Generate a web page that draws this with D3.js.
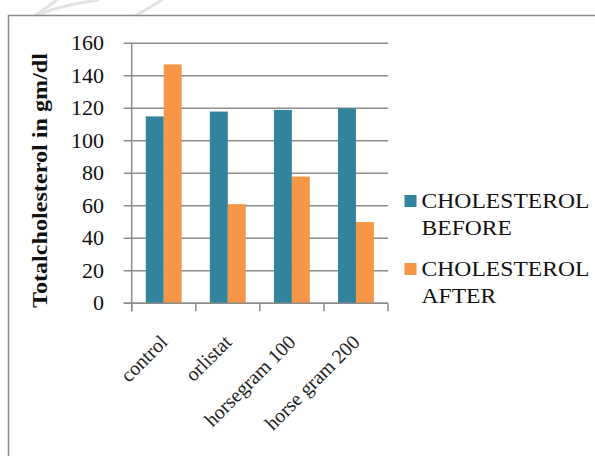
<!DOCTYPE html>
<html>
<head>
<meta charset="utf-8">
<script src="https://cdn.jsdelivr.net/npm/d3@7/dist/d3.min.js"></script>
<style>
  html, body { margin: 0; padding: 0; background: #fff; }
  svg { display: block; }
</style>
</head>
<body>
<svg id="chart" width="595" height="456"></svg>
<script>
// Total cholesterol before and after treatment, per group
const categories = ["control", "orlistat", "horsegram 100", "horse gram 200"];
const seriesNames = ["CHOLESTEROL BEFORE", "CHOLESTEROL AFTER"];
const cholesterolBefore = [115, 118, 119, 120];
const cholesterolAfter = [147, 61, 78, 50];
const yTicks = [0, 20, 40, 60, 80, 100, 120, 140, 160];
const seriesColors = ["#31849B", "#F79646"];

const FONT = "'Liberation Serif', 'Times New Roman', serif";
// regular text is set at 20px; wider labels are stretched horizontally only
const BASE = 20;
const svg = d3.select("#chart");

// faint background swooshes
const swoosh = svg.append("g").attr("fill", "none").attr("stroke", "#e2e2e2")
  .attr("stroke-width", 3).attr("stroke-linecap", "round");
swoosh.append("path").attr("d", "M36,15 L57,0");
swoosh.append("path").attr("d", "M40,14 C55,8 70,4 98,0");
swoosh.append("path").attr("d", "M137,15 L162,0");

// chart frame
svg.append("path")
  .attr("d", "M8.5,460 L8.5,15.5 L600,15.5")
  .attr("fill", "none").attr("stroke", "#8a8a8a").attr("stroke-width", 1.5);

const plot = { left: 131.7, right: 388, top: 43.3, bottom: 303.3 };

const x = d3.scaleBand().domain(categories)
  .range([plot.left, plot.right]).paddingInner(0.44).paddingOuter(0.22);
const xs = d3.scaleBand().domain(seriesNames).range([0, x.bandwidth()]);
const y = d3.scaleLinear().domain([0, 160]).range([plot.bottom, plot.top]);

// horizontal gridlines with left tick stubs
svg.append("g").selectAll("line").data(yTicks).join("line")
  .attr("x1", plot.left - 8).attr("x2", plot.right)
  .attr("y1", d => y(d)).attr("y2", d => y(d))
  .attr("stroke", "#8c8c8c").attr("stroke-width", 1.5);

// y axis line
svg.append("line")
  .attr("x1", plot.left).attr("x2", plot.left)
  .attr("y1", plot.top).attr("y2", plot.bottom + 8)
  .attr("stroke", "#8c8c8c").attr("stroke-width", 1.5);

// y tick labels
svg.append("g").selectAll("text").data(yTicks).join("text")
  .attr("transform", d => `translate(104,${y(d)}) scale(1.1,1)`)
  .attr("dy", "0.35em").attr("text-anchor", "end")
  .attr("font-family", FONT).attr("font-size", BASE).attr("fill", "#111")
  .text(d => d);

// category boundary ticks
const boundaries = d3.range(categories.length + 1).map(i => plot.left + i * (plot.right - plot.left) / categories.length);
svg.append("g").selectAll("line").data(boundaries).join("line")
  .attr("x1", d => d).attr("x2", d => d)
  .attr("y1", plot.bottom).attr("y2", plot.bottom + 8)
  .attr("stroke", "#8c8c8c").attr("stroke-width", 1.5);

// bars
const rows = categories.map((c, i) => ({ cat: c, vals: [cholesterolBefore[i], cholesterolAfter[i]] }));
const groups = svg.append("g").selectAll("g").data(rows).join("g")
  .attr("transform", d => `translate(${x(d.cat)},0)`);
groups.selectAll("rect")
  .data(d => d.vals.map((v, j) => ({ name: seriesNames[j], v, j })))
  .join("rect")
  .attr("x", d => xs(d.name))
  .attr("width", xs.bandwidth())
  .attr("y", d => y(d.v))
  .attr("height", d => y(0) - y(d.v))
  .attr("fill", d => seriesColors[d.j]);

// axis baseline over bars
svg.append("line")
  .attr("x1", plot.left - 8).attr("x2", plot.right)
  .attr("y1", plot.bottom).attr("y2", plot.bottom)
  .attr("stroke", "#8c8c8c").attr("stroke-width", 1.5);

// rotated category labels
svg.append("g").selectAll("text").data(categories).join("text")
  .attr("text-anchor", "end")
  .attr("font-family", FONT).attr("font-size", BASE).attr("fill", "#222")
  .attr("transform", d => `translate(${x(d) + x.bandwidth() / 2 + 5},${plot.bottom + 40}) rotate(-45)`)
  .text(d => d);

// y axis title
svg.append("text")
  .attr("transform", "translate(47,180.5) rotate(-90)")
  .attr("text-anchor", "middle")
  .attr("font-family", FONT).attr("font-size", 21).attr("fill", "#111")
  .attr("font-weight", "bold")
  .attr("textLength", 255)
  .attr("lengthAdjust", "spacingAndGlyphs")
  .text("Totalcholesterol in gm/dl");

// legend
const lsx = 1.18;
const legendItems = [
  { lines: ["CHOLESTEROL", "BEFORE"], color: seriesColors[0], top: 195 },
  { lines: ["CHOLESTEROL", "AFTER"], color: seriesColors[1], top: 263 }
];
const lg = svg.append("g").selectAll("g").data(legendItems).join("g");
lg.append("rect")
  .attr("x", 404.5).attr("y", d => d.top)
  .attr("width", 12).attr("height", 12)
  .attr("fill", d => d.color);
lg.each(function (d) {
  const g = d3.select(this);
  d.lines.forEach((ln, k) => {
    const t = g.append("text")
      .attr("transform", `translate(421.5,${d.top + 13 + k * 27}) scale(${lsx},1)`)
      .attr("font-family", FONT).attr("font-size", BASE).attr("fill", "#111")
      .text(ln);
    if (ln === "CHOLESTEROL") t.attr("textLength", 168 / lsx).attr("lengthAdjust", "spacing");
  });
});
</script>
</body>
</html>
